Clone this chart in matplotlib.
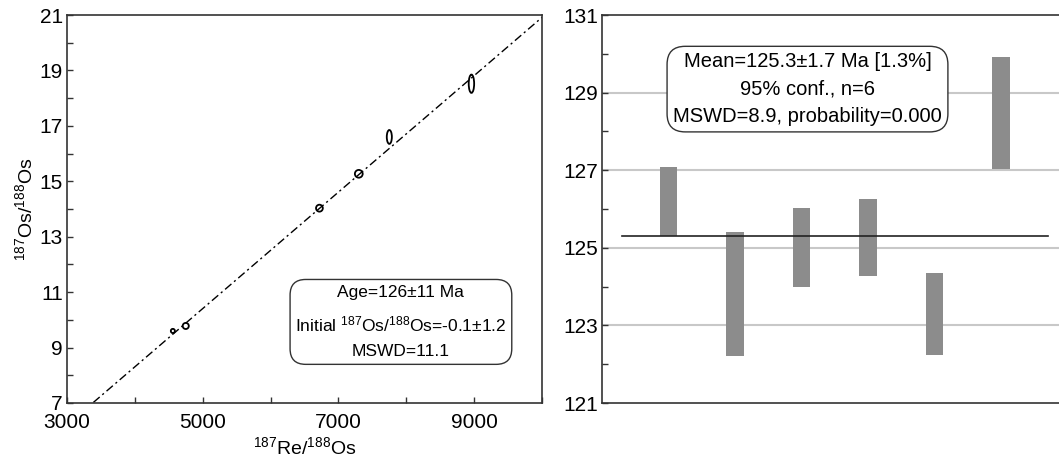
import numpy as np
import matplotlib
matplotlib.use("Agg")
import matplotlib.pyplot as plt
from matplotlib.patches import Ellipse

plt.rcParams['font.family'] = ['Liberation Sans', 'DejaVu Sans']
plt.rcParams['mathtext.default'] = 'regular'

# isochron data: 187Re/188Os, 187Os/188Os and ellipse sizes
re_os = [4560, 4750, 6720, 7300, 7750, 8960]
os_os = [9.60, 9.78, 14.03, 15.27, 16.60, 18.52]
ell_w = [60, 90, 100, 115, 75, 80]
ell_h = [0.15, 0.22, 0.25, 0.28, 0.50, 0.66]
age_ma = 126
initial_os = -0.1
decay_const = 1.666e-11

# weighted mean plot: lower/upper bounds of each age box
box_lo = [125.31, 122.21, 123.99, 124.27, 122.25, 127.03]
box_hi = [127.09, 125.40, 126.03, 126.27, 124.35, 129.91]
mean_age = 125.3

fig = plt.figure(figsize=(10.59, 4.62), dpi=100)
spine_col = '#333333'

# ---- left: isochron
ax1 = fig.add_axes([67 / 1059, 59 / 462, 475 / 1059, 388 / 462])
slope = np.exp(decay_const * age_ma * 1e6) - 1
xs = np.array([3000, 10000])
ax1.plot(xs, initial_os + slope * xs, color='black', lw=1.0,
         linestyle=(0, (6, 2.5, 1.5, 2.5)))
for x, y, w, h in zip(re_os, os_os, ell_w, ell_h):
    ax1.add_patch(Ellipse((x, y), w, h, fill=False, edgecolor='black', lw=1.3))
ax1.set_xlim(3000, 10000)
ax1.set_ylim(7, 21)
ax1.set_xticks([3000, 5000, 7000, 9000])
ax1.set_xticks([4000, 6000, 8000, 10000], minor=True)
ax1.set_yticks(np.arange(7, 22, 2))
ax1.set_yticks(np.arange(8, 21, 2), minor=True)
ax1.tick_params(which='both', direction='in', length=4, width=1, labelsize=15,
                color=spine_col, pad=3)
ax1.tick_params(axis='x', pad=7)
for s in ax1.spines.values():
    s.set_color(spine_col)
    s.set_linewidth(1.2)
ax1.set_xlabel('$^{187}$Re/$^{188}$Os', fontsize=14)
ax1.set_ylabel('$^{187}$Os/$^{188}$Os', fontsize=14)
ax1.xaxis.set_label_coords(0.5, -0.113)
ax1.yaxis.set_label_coords(-0.088, 0.5)
ax1.yaxis.label.set_va('center')
ax1.xaxis.label.set_va('center')
ax1.text(0.703, 0.209,
         'Age=126±11 Ma\nInitial $^{187}$Os/$^{188}$Os=-0.1±1.2\nMSWD=11.1',
         transform=ax1.transAxes, ha='center', va='center', fontsize=12.5,
         linespacing=1.85,
         bbox=dict(boxstyle='round,pad=0.3,rounding_size=0.9',
                   facecolor='white', edgecolor=spine_col, lw=1.0))

# ---- right: weighted mean
ax2 = fig.add_axes([602 / 1059, 59 / 462, 465.5 / 1059, 388 / 462])
pos = np.arange(1, len(box_lo) + 1)
ax2.bar(pos, np.array(box_hi) - np.array(box_lo), bottom=box_lo, width=0.27,
        color='#8c8c8c', zorder=3)
ax2.plot([0.3, 6.7], [mean_age, mean_age], color='#222222', lw=1.2, zorder=4)
ax2.set_xlim(0, 7)
ax2.set_ylim(121, 131)
ax2.set_yticks(np.arange(121, 132, 2))
ax2.set_yticks(np.arange(122, 131, 2), minor=True)
ax2.set_xticks([])
for g in [123, 125, 127, 129]:
    ax2.axhline(g, color='#c8c8c8', lw=1.5, zorder=1)
ax2.tick_params(which='both', direction='in', length=4, width=1, labelsize=15,
                color=spine_col, pad=3)
for s in ax2.spines.values():
    s.set_color(spine_col)
    s.set_linewidth(1.2)
ax2.spines['right'].set_visible(False)
ax2.text(3.09, 129.09,
         'Mean=125.3±1.7 Ma [1.3%]\n95% conf., n=6\nMSWD=8.9, probability=0.000',
         ha='center', va='center', fontsize=14.5, linespacing=1.55, zorder=5,
         bbox=dict(boxstyle='round,pad=0.3,rounding_size=0.9',
                   facecolor='white', edgecolor=spine_col, lw=1.0))

fig.savefig('out.png', dpi=100)
